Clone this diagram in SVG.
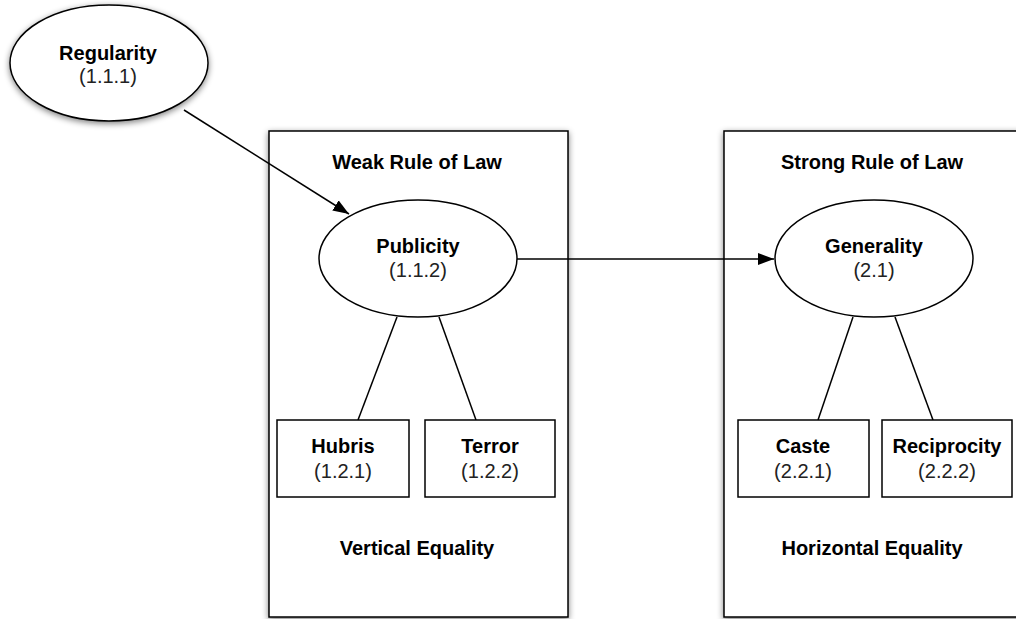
<svg xmlns="http://www.w3.org/2000/svg" width="1016" height="619" viewBox="0 0 1016 619">
<style>
.shape{fill:#fff;stroke:#000;stroke-width:1.5}
.t{font-family:"Liberation Sans",Arial,sans-serif;font-size:20px;text-anchor:middle;fill:#000}
.b{font-weight:bold}
.n{fill:#222}
.c{stroke:#000;stroke-width:1.5;fill:none}
</style>
<defs>
<filter id="sh" x="-20%" y="-20%" width="140%" height="140%">
<feGaussianBlur in="SourceAlpha" stdDeviation="3"/>
<feOffset dx="0" dy="2" result="o"/>
<feComponentTransfer><feFuncA type="linear" slope="0.5"/></feComponentTransfer>
<feMerge><feMergeNode/><feMergeNode in="SourceGraphic"/></feMerge>
</filter>
<marker id="arr" markerWidth="16" markerHeight="12" refX="16" refY="6" orient="auto" markerUnits="userSpaceOnUse">
<path d="M0,0 L16,6 L0,12 z" fill="#000"/>
</marker>
</defs>
<g id="weak-box">
<rect class="shape" x="269" y="131" width="299" height="486" filter="url(#sh)"/>
<text class="t b" x="417" y="169">Weak Rule of Law</text>
<text class="t b" x="417" y="555">Vertical Equality</text>
</g>
<g id="strong-box">
<rect class="shape" x="724" y="131" width="299" height="486" filter="url(#sh)"/>
<text class="t b" x="872" y="169">Strong Rule of Law</text>
<text class="t b" x="872" y="555">Horizontal Equality</text>
</g>
<g id="connectors">
<line class="c" x1="184" y1="110" x2="349" y2="214" marker-end="url(#arr)"/>
<line class="c" x1="517" y1="259" x2="774" y2="259" marker-end="url(#arr)"/>
<line class="c" x1="397" y1="317" x2="358" y2="420"/>
<line class="c" x1="439" y1="317" x2="476" y2="420"/>
<line class="c" x1="853" y1="317" x2="818" y2="420"/>
<line class="c" x1="895" y1="317" x2="933" y2="420"/>
</g>
<g id="regularity">
<ellipse class="shape" cx="109" cy="63" rx="99" ry="58" filter="url(#sh)"/>
<text class="t b" x="108" y="60">Regularity</text>
<text class="t n" x="108" y="83">(1.1.1)</text>
</g>
<g id="publicity">
<ellipse class="shape" cx="418" cy="258.5" rx="99" ry="58.5"/>
<text class="t b" x="418" y="253">Publicity</text>
<text class="t n" x="418" y="277">(1.1.2)</text>
</g>
<g id="generality">
<ellipse class="shape" cx="874" cy="258.5" rx="99" ry="58.5"/>
<text class="t b" x="874" y="253">Generality</text>
<text class="t n" x="874" y="277">(2.1)</text>
</g>
<g id="hubris">
<rect class="shape" x="277" y="420" width="132" height="77"/>
<text class="t b" x="343" y="453">Hubris</text>
<text class="t n" x="343" y="478">(1.2.1)</text>
</g>
<g id="terror">
<rect class="shape" x="425" y="420" width="130" height="77"/>
<text class="t b" x="490" y="453">Terror</text>
<text class="t n" x="490" y="478">(1.2.2)</text>
</g>
<g id="caste">
<rect class="shape" x="738" y="420" width="131" height="77"/>
<text class="t b" x="803" y="453">Caste</text>
<text class="t n" x="803" y="478">(2.2.1)</text>
</g>
<g id="reciprocity">
<rect class="shape" x="882" y="420" width="130" height="77"/>
<text class="t b" x="947" y="453">Reciprocity</text>
<text class="t n" x="947" y="478">(2.2.2)</text>
</g>
</svg>
